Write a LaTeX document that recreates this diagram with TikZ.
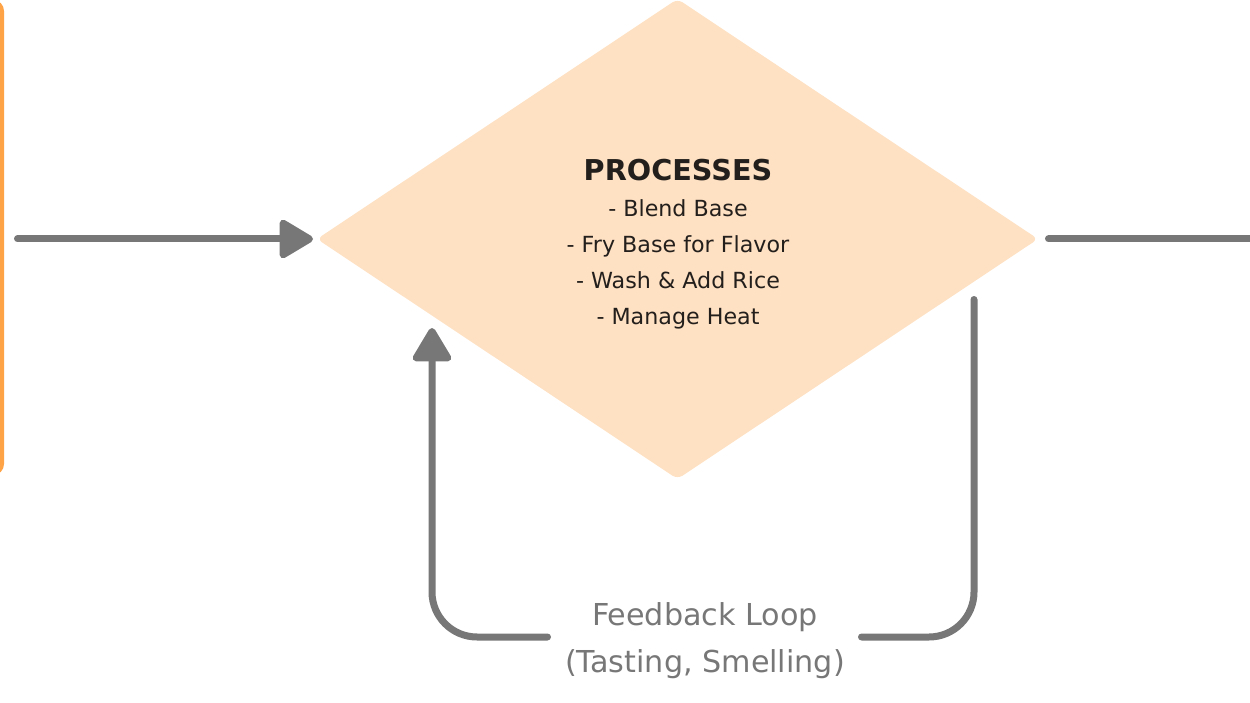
\documentclass[tikz,border=0pt]{standalone}
\usepackage{fontspec}
\setmainfont{DejaVu Sans}
\usetikzlibrary{shapes.geometric,arrows.meta}
\definecolor{peach}{HTML}{FEE0C2}
\definecolor{flowgray}{HTML}{777777}
\definecolor{inkdark}{HTML}{231F1C}
\definecolor{framorange}{HTML}{FFA347}
\tikzset{
  flow/.style={draw=flowgray, line width=7pt, line cap=round, line join=round},
  flowtip/.style={-{Triangle[length=37pt,width=42pt,line join=round]}},
  bodytext/.style={text=inkdark, font=\fontsize{22.2}{36}\selectfont, align=center, inner sep=0pt},
  looptext/.style={text=flowgray, font=\fontsize{30.2}{47}\selectfont, align=center, inner sep=0pt}
}
\begin{document}
\begin{tikzpicture}[x=1pt,y=-1pt]
\useasboundingbox (0,0) rectangle (1250,703);
\clip (0,0) rectangle (1250,703);
% frame edge of off-canvas box
\draw[framorange, line width=4pt, rounded corners=9pt] (-300,2) rectangle (2,473);
% diamond
\node[diamond, fill=peach, minimum width=721pt, minimum height=480pt, inner sep=0pt, outer sep=0pt, rounded corners=6pt] (proc) at (677.5,239) {};
\node[bodytext] (proctext) at (678,244) {{\bfseries\fontsize{28.7}{36}\selectfont PROCESSES}\\- Blend Base\\- Fry Base for Flavor\\- Wash \& Add Rice\\- Manage Heat};
% connectors
\coordinate (inL) at (17.5,239);
\coordinate (outR) at (1260,239);
\draw[flow, flowtip, shorten >=4pt] (inL) -- (proc.west);
\draw[flow, shorten <=10.5pt] (proc.east) -- (outR);
% feedback loop
\node[looptext] (loop) at (705,641) {Feedback Loop\\(Tasting, Smelling)};
\coordinate (fbA) at (974,299.5);
\coordinate (fbB) at (861.5,637);
\coordinate (fbC) at (547.5,637);
\coordinate (fbD) at (432,328);
\draw[flow, rounded corners=45pt] (fbA) |- (fbB);
\draw[flow, flowtip, rounded corners=45pt] (fbC) -| (fbD);
\end{tikzpicture}
\end{document}
